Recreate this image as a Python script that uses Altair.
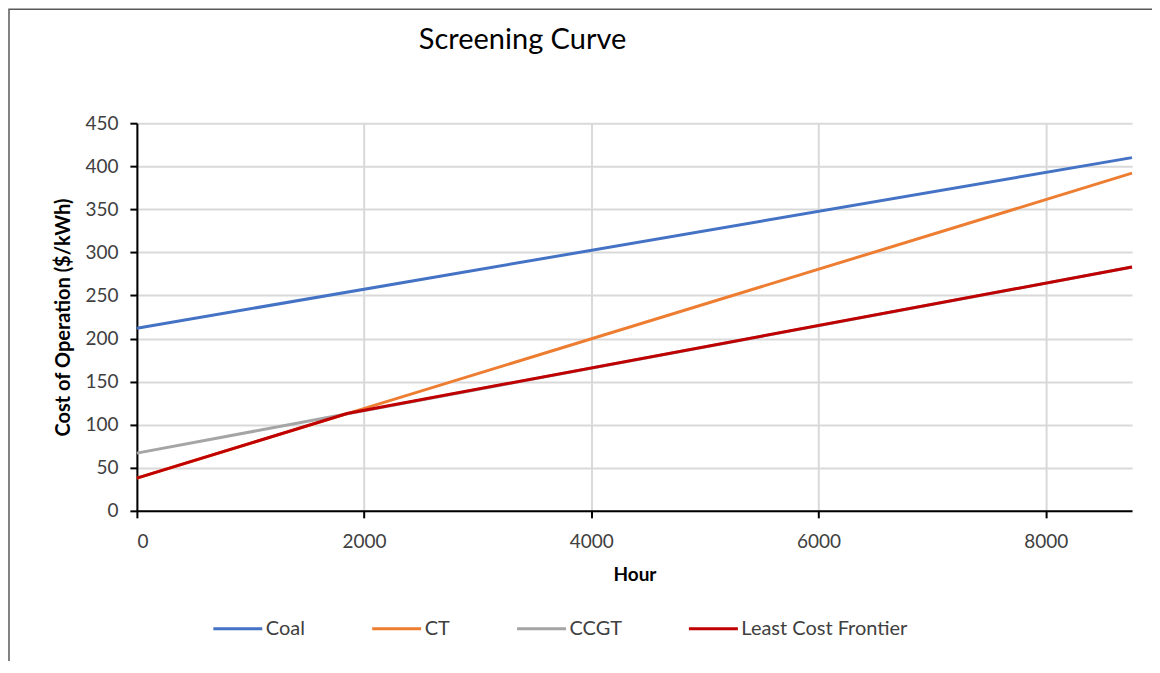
import altair as alt
import pandas as pd

hours = [0, 8760]
coal = [212, 410]
ct = [38, 392]
ccgt = [67, 283]
frontier_hours = [0, 1850, 8760]
frontier = [38, 113, 283]

series_order = ["Coal", "CT", "CCGT", "Least Cost Frontier"]
colors = ["#4472C4", "#ED7D31", "#A5A5A5", "#C00000"]

rows = []
for h, v in zip(hours, coal):
    rows.append({"Hour": h, "Cost": v, "Series": "Coal", "order": 0})
for h, v in zip(hours, ct):
    rows.append({"Hour": h, "Cost": v, "Series": "CT", "order": 1})
for h, v in zip(hours, ccgt):
    rows.append({"Hour": h, "Cost": v, "Series": "CCGT", "order": 2})
for h, v in zip(frontier_hours, frontier):
    rows.append({"Hour": h, "Cost": v, "Series": "Least Cost Frontier", "order": 3})
df = pd.DataFrame(rows)

FONT = "Lato"

lines = alt.Chart(df).mark_line(strokeWidth=3).encode(
    x=alt.X("Hour:Q",
            scale=alt.Scale(domain=[0, 8760], nice=False),
            axis=alt.Axis(values=[0, 2000, 4000, 6000, 8000], format="d",
                          title="Hour", titleFontWeight="bold", titleFontSize=19,
                          titleColor="#000000", titlePadding=14,
                          labelFontSize=19, labelColor="#404040", labelPadding=15,
                          tickSize=7, tickColor="#000000", tickWidth=2,
                          domainColor="#000000", domainWidth=2,
                          gridColor="#D9D9D9", gridWidth=2)),
    y=alt.Y("Cost:Q",
            scale=alt.Scale(domain=[0, 450], nice=False),
            axis=alt.Axis(values=list(range(0, 451, 50)),
                          title="Cost of Operation ($/kWh)", titleFontWeight="bold",
                          titleFontSize=20, titleColor="#000000", titlePadding=11,
                          labelFontSize=19, labelColor="#404040", labelPadding=12,
                          tickSize=7, tickColor="#000000", tickWidth=2,
                          domainColor="#000000", domainWidth=2,
                          gridColor="#D9D9D9", gridWidth=2)),
    color=alt.Color("Series:N",
                    scale=alt.Scale(domain=series_order, range=colors),
                    sort=series_order,
                    legend=alt.Legend(title=None, orient="none", direction="horizontal",
                                      legendX=75, legendY=480,
                                      symbolType="stroke", symbolSize=2401,
                                      symbolStrokeWidth=3, labelOffset=2,
                                      columnPadding=60, labelFontSize=20,
                                      labelLimit=300, labelColor="#404040")),
    order=alt.Order("order:Q"),
    detail="Series:N",
)

border = alt.Chart(pd.DataFrame({"b": [0]})).mark_rect(
    fill=None, stroke="#595959", strokeWidth=1.5
).encode(x=alt.value(-128), x2=alt.value(1100), y=alt.value(-114), y2=alt.value(700))

chart = alt.layer(border, lines).properties(
    width=996, height=388,
    title=alt.TitleParams("Screening Curve", fontSize=29, font=FONT, fontWeight="normal",
                          color="#000000", anchor="middle", dx=-112, offset=-47),
    autosize=alt.AutoSizeParams(type="none"),
    padding={"left": 129, "top": 115, "right": 20, "bottom": 150},
).configure(font=FONT).configure_view(stroke=None)

chart.save("out.html", embed_options={"renderer": "svg", "actions": False})
